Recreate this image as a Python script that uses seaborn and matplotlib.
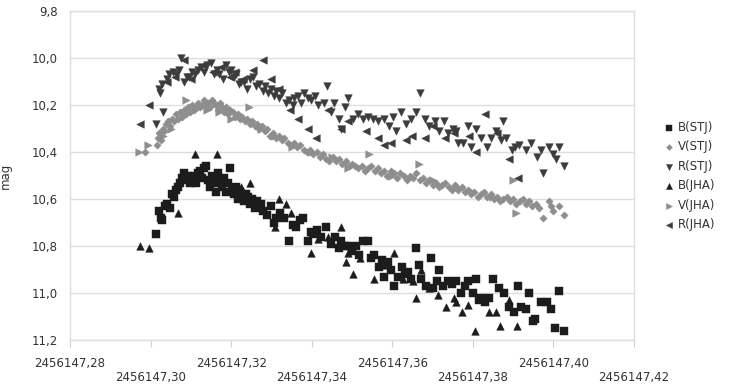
import matplotlib
matplotlib.use("Agg")
import matplotlib.pyplot as plt
import seaborn as sns
import pandas as pd

# ---------------- data ----------------
JD_BASE = 2456147.0

b_stj_t = [0.3014, 0.3021, 0.3026, 0.3029, 0.3035, 0.3041, 0.3048, 0.3052, 0.3058, 0.3062,
           0.3068, 0.3072, 0.3078, 0.3083, 0.3088, 0.3093, 0.3098, 0.3103, 0.3108, 0.3113,
           0.3118, 0.3123, 0.3128, 0.3133, 0.3138, 0.3143, 0.3148, 0.3153, 0.3158, 0.3163,
           0.3168, 0.3173, 0.3178, 0.3183, 0.3188, 0.3193, 0.3198, 0.3203, 0.3208, 0.3213,
           0.3218, 0.3223, 0.3228, 0.3233, 0.3238, 0.3242, 0.3247, 0.3252, 0.3258, 0.3263,
           0.3270, 0.3275, 0.3280, 0.3288, 0.3299, 0.3307, 0.3312, 0.3322, 0.3332, 0.3344,
           0.3354, 0.3361, 0.3370, 0.3379, 0.3390, 0.3397, 0.3404, 0.3412, 0.3424, 0.3436,
           0.3448, 0.3458, 0.3468, 0.3473, 0.3482, 0.3490, 0.3500, 0.3510, 0.3518, 0.3528,
           0.3540, 0.3548, 0.3555, 0.3568, 0.3575, 0.3580, 0.3590, 0.3597, 0.3605, 0.3615,
           0.3625, 0.3632, 0.3640, 0.3647, 0.3660, 0.3666, 0.3672, 0.3684, 0.3697, 0.3702,
           0.3710, 0.3717, 0.3727, 0.3739, 0.3748, 0.3759, 0.3771, 0.3781, 0.3789, 0.3801,
           0.3809, 0.3815, 0.3821, 0.3830, 0.3841, 0.3851, 0.3866, 0.3878, 0.3890, 0.3903,
           0.3913, 0.3920, 0.3933, 0.3940, 0.3950, 0.3955, 0.3970, 0.3983, 0.3995, 0.4005,
           0.4015, 0.4025]
b_stj_mag = [10.75, 10.65, 10.68, 10.69, 10.63, 10.62, 10.64, 10.58, 10.59, 10.56,
             10.55, 10.53, 10.51, 10.49, 10.52, 10.50, 10.53, 10.51, 10.50, 10.53,
             10.49, 10.48, 10.51, 10.47, 10.46, 10.52, 10.55, 10.50, 10.53, 10.57,
             10.49, 10.52, 10.55, 10.51, 10.57, 10.53, 10.47, 10.56, 10.58, 10.55,
             10.60, 10.57, 10.59, 10.61, 10.58, 10.59, 10.62, 10.60, 10.64, 10.61,
             10.63, 10.62, 10.65, 10.67, 10.63, 10.70, 10.68, 10.66, 10.68, 10.78,
             10.71, 10.72, 10.69, 10.68, 10.78, 10.74, 10.75, 10.73, 10.76, 10.72,
             10.79, 10.76, 10.81, 10.78, 10.80, 10.80, 10.82, 10.80, 10.84, 10.78,
             10.78, 10.85, 10.84, 10.89, 10.86, 10.93, 10.87, 10.90, 10.97, 10.93,
             10.89, 10.92, 10.91, 10.94, 10.81, 10.88, 10.94, 10.97, 10.85, 10.98,
             10.95, 10.90, 10.97, 10.95, 10.96, 10.95, 11.00, 10.97, 10.95, 11.00,
             10.94, 11.03, 11.02, 11.04, 11.02, 10.94, 10.98, 11.00, 11.06, 11.08,
             10.97, 11.06, 11.07, 11.00, 11.12, 11.11, 11.04, 11.04, 11.07, 11.15,
             10.99, 11.16]

v_stj_t = [0.2985, 0.3015, 0.3019, 0.3022, 0.3026, 0.3030, 0.3034, 0.3038, 0.3043, 0.3048,
           0.3052, 0.3057, 0.3063, 0.3068, 0.3073, 0.3078, 0.3083, 0.3088, 0.3093, 0.3098,
           0.3103, 0.3108, 0.3113, 0.3118, 0.3123, 0.3128, 0.3133, 0.3138, 0.3143, 0.3148,
           0.3153, 0.3158, 0.3163, 0.3168, 0.3173, 0.3178, 0.3183, 0.3188, 0.3193, 0.3198,
           0.3205, 0.3210, 0.3216, 0.3222, 0.3228, 0.3234, 0.3240, 0.3246, 0.3252, 0.3258,
           0.3264, 0.3270, 0.3276, 0.3283, 0.3290, 0.3297, 0.3304, 0.3311, 0.3318, 0.3325,
           0.3332, 0.3340, 0.3348, 0.3356, 0.3364, 0.3372, 0.3380, 0.3388, 0.3396, 0.3404,
           0.3412, 0.3420, 0.3428, 0.3436, 0.3444, 0.3452, 0.3460, 0.3468, 0.3476, 0.3484,
           0.3492, 0.3500, 0.3508, 0.3516, 0.3524, 0.3532, 0.3540, 0.3548, 0.3556, 0.3564,
           0.3572, 0.3580, 0.3588, 0.3596, 0.3604, 0.3612, 0.3620, 0.3628, 0.3636, 0.3644,
           0.3652, 0.3660, 0.3668, 0.3676, 0.3684, 0.3692, 0.3700, 0.3708, 0.3716, 0.3724,
           0.3732, 0.3740, 0.3748, 0.3756, 0.3764, 0.3772, 0.3780, 0.3788, 0.3796, 0.3804,
           0.3812, 0.3820, 0.3828, 0.3836, 0.3844, 0.3852, 0.3860, 0.3868, 0.3876, 0.3884,
           0.3892, 0.3900, 0.3908, 0.3916, 0.3924, 0.3932, 0.3940, 0.3948, 0.3956, 0.3965,
           0.3975, 0.3988, 0.3995, 0.4000, 0.4015, 0.4025]
v_stj_mag = [10.40, 10.37, 10.34, 10.32, 10.35, 10.30, 10.31, 10.28, 10.27, 10.29,
             10.26, 10.27, 10.24, 10.26, 10.23, 10.25, 10.22, 10.24, 10.21, 10.23,
             10.20, 10.22, 10.21, 10.19, 10.21, 10.20, 10.18, 10.20, 10.19, 10.21,
             10.18, 10.19, 10.20, 10.22, 10.19, 10.21, 10.23, 10.21, 10.24, 10.22,
             10.23, 10.25, 10.24, 10.26, 10.25, 10.27, 10.26, 10.28, 10.27, 10.29,
             10.28, 10.30, 10.29, 10.31, 10.30, 10.33, 10.32, 10.34, 10.33, 10.35,
             10.34, 10.36, 10.37, 10.36, 10.38, 10.37, 10.39, 10.40, 10.39, 10.41,
             10.40, 10.42, 10.41, 10.43, 10.44, 10.42, 10.44, 10.43, 10.45, 10.44,
             10.46, 10.45, 10.46, 10.47, 10.46, 10.48, 10.47, 10.46, 10.48, 10.47,
             10.49, 10.48, 10.50, 10.48, 10.49, 10.51, 10.49, 10.50, 10.52, 10.50,
             10.51, 10.49, 10.52, 10.51, 10.53, 10.52, 10.54, 10.53, 10.55, 10.54,
             10.53, 10.55, 10.56, 10.54, 10.56, 10.55, 10.57, 10.56, 10.58, 10.57,
             10.59, 10.58, 10.57, 10.59, 10.58, 10.60, 10.59, 10.61, 10.60, 10.59,
             10.61, 10.60, 10.62, 10.61, 10.60, 10.62, 10.61, 10.63, 10.62, 10.64,
             10.68, 10.61, 10.63, 10.65, 10.63, 10.67]

r_stj_t = [0.3014, 0.3021, 0.3024, 0.3029, 0.3031, 0.3040, 0.3046, 0.3055, 0.3063, 0.3070,
           0.3076, 0.3083, 0.3090, 0.3096, 0.3103, 0.3110, 0.3118, 0.3125, 0.3132, 0.3140,
           0.3150, 0.3158, 0.3165, 0.3170, 0.3180, 0.3188, 0.3194, 0.3200, 0.3207, 0.3213,
           0.3220, 0.3225, 0.3232, 0.3240, 0.3248, 0.3255, 0.3262, 0.3270, 0.3278, 0.3285,
           0.3292, 0.3300, 0.3307, 0.3312, 0.3319, 0.3326, 0.3335, 0.3344, 0.3354, 0.3357,
           0.3365, 0.3374, 0.3381, 0.3390, 0.3399, 0.3408, 0.3416, 0.3431, 0.3438, 0.3448,
           0.3456, 0.3468, 0.3473, 0.3482, 0.3490, 0.3503, 0.3515, 0.3528, 0.3540, 0.3552,
           0.3565, 0.3580, 0.3593, 0.3603, 0.3610, 0.3622, 0.3635, 0.3647, 0.3660, 0.3670,
           0.3680, 0.3692, 0.3705, 0.3717, 0.3729, 0.3739, 0.3750, 0.3759, 0.3764, 0.3776,
           0.3789, 0.3796, 0.3809, 0.3821, 0.3834, 0.3846, 0.3858, 0.3870, 0.3876, 0.3883,
           0.3896, 0.3905, 0.3915, 0.3933, 0.3945, 0.3958, 0.3970, 0.3975, 0.3988, 0.4000,
           0.4007, 0.4015, 0.4025]
r_stj_mag = [10.28, 10.13, 10.15, 10.11, 10.23, 10.09, 10.07, 10.06, 10.07, 10.05,
             10.00, 10.10, 10.08, 10.08, 10.06, 10.07, 10.05, 10.04, 10.06, 10.03,
             10.02, 10.07, 10.05, 10.07, 10.09, 10.03, 10.06, 10.05, 10.08, 10.07,
             10.11, 10.10, 10.10, 10.13, 10.09, 10.08, 10.12, 10.11, 10.14, 10.12,
             10.15, 10.13, 10.16, 10.14, 10.17, 10.15, 10.19, 10.18, 10.20, 10.17,
             10.16, 10.19, 10.15, 10.17, 10.18, 10.16, 10.20, 10.19, 10.12, 10.23,
             10.19, 10.26, 10.30, 10.21, 10.17, 10.26, 10.24, 10.26, 10.25, 10.26,
             10.27, 10.26, 10.29, 10.25, 10.31, 10.23, 10.28, 10.26, 10.23, 10.15,
             10.26, 10.29, 10.27, 10.31, 10.27, 10.32, 10.30, 10.31, 10.36, 10.36,
             10.29, 10.38, 10.30, 10.34, 10.38, 10.34, 10.31, 10.35, 10.27, 10.34,
             10.39, 10.38, 10.37, 10.39, 10.36, 10.42, 10.39, 10.49, 10.38, 10.41,
             10.43, 10.38, 10.46]

b_jha_t = [0.2974, 0.2996, 0.3068, 0.3110, 0.3165, 0.3225, 0.3247, 0.3265, 0.3309, 0.3320,
           0.3335, 0.3349, 0.3399, 0.3415, 0.3440, 0.3473, 0.3486, 0.3490, 0.3503, 0.3520,
           0.3555, 0.3580, 0.3605, 0.3627, 0.3652, 0.3660, 0.3672, 0.3692, 0.3714, 0.3734,
           0.3754, 0.3759, 0.3774, 0.3789, 0.3806, 0.3839, 0.3858, 0.3868, 0.3890, 0.3910]
b_jha_mag = [10.80, 10.81, 10.66, 10.41, 10.41, 10.55, 10.53, 10.62, 10.72, 10.60,
             10.62, 10.66, 10.83, 10.77, 10.76, 10.72, 10.87, 10.83, 10.92, 10.85,
             10.94, 10.88, 10.83, 10.94, 10.95, 11.02, 10.90, 10.98, 11.01, 11.06,
             11.02, 11.04, 11.08, 11.05, 11.16, 11.08, 11.08, 11.14, 11.03, 11.14]

v_jha_t = [0.2971, 0.2994, 0.3030, 0.3050, 0.3088, 0.3110, 0.3140, 0.3170, 0.3200, 0.3245,
           0.3275, 0.3310, 0.3350, 0.3400, 0.3450, 0.3490, 0.3543, 0.3600, 0.3667, 0.3700,
           0.3760, 0.3800, 0.3850, 0.3900, 0.3908]
v_jha_mag = [10.40, 10.37, 10.33, 10.30, 10.18, 10.22, 10.22, 10.23, 10.26, 10.21,
             10.30, 10.33, 10.38, 10.40, 10.42, 10.47, 10.41, 10.50, 10.45, 10.52,
             10.55, 10.57, 10.59, 10.52, 10.66]

r_jha_t = [0.2974, 0.2996, 0.3040, 0.3060, 0.3083, 0.3100, 0.3130, 0.3155, 0.3175, 0.3198,
           0.3210, 0.3230, 0.3255, 0.3280, 0.3300, 0.3320, 0.3345, 0.3366, 0.3390, 0.3410,
           0.3440, 0.3473, 0.3490, 0.3535, 0.3565, 0.3580, 0.3598, 0.3635, 0.3650, 0.3680,
           0.3700, 0.3730, 0.3752, 0.3790, 0.3809, 0.3829, 0.3860, 0.3890, 0.3913]
r_jha_mag = [10.28, 10.20, 10.10, 10.08, 10.01, 10.09, 10.03, 10.06, 10.04, 10.08,
             10.06, 10.09, 10.05, 10.01, 10.09, 10.13, 10.22, 10.26, 10.30, 10.34,
             10.22, 10.30, 10.27, 10.31, 10.34, 10.37, 10.36, 10.35, 10.33, 10.34,
             10.29, 10.34, 10.32, 10.33, 10.40, 10.24, 10.32, 10.43, 10.51]

series_names = ["B(STJ)", "V(STJ)", "R(STJ)", "B(JHA)", "V(JHA)", "R(JHA)"]

x_ticks = [0.28, 0.30, 0.32, 0.34, 0.36, 0.38, 0.40, 0.42]
x_tick_labels = ["2456147,28", "2456147,30", "2456147,32", "2456147,34",
                 "2456147,36", "2456147,38", "2456147,40", "2456147,42"]
y_ticks = [9.8, 10.0, 10.2, 10.4, 10.6, 10.8, 11.0, 11.2]
y_tick_labels = ["9,8", "10,0", "10,2", "10,4", "10,6", "10,8", "11,0", "11,2"]

# ---------------- style ----------------
sns.set_style("white")
plt.rcParams["font.family"] = ["DejaVu Sans"]
FS = 8.5

fig = plt.figure(figsize=(7.3, 3.85), dpi=100)
ax = fig.add_axes([70 / 730, 1 - 340 / 385, (634 - 70) / 730, (340 - 11) / 385])

series = [
    (b_stj_t, b_stj_mag, "s", "#1c1c1c", 26),
    (v_stj_t, v_stj_mag, "D", "#8e8e8e", 14),
    (r_stj_t, r_stj_mag, "v", "#3c3c3c", 30),
    (b_jha_t, b_jha_mag, "^", "#1c1c1c", 30),
    (v_jha_t, v_jha_mag, ">", "#8e8e8e", 30),
    (r_jha_t, r_jha_mag, "<", "#3c3c3c", 30),
]

for (t, m, mk, col, sz), name in zip(series, series_names):
    df = pd.DataFrame({"jd": [JD_BASE + v for v in t], "mag": m})
    sns.scatterplot(data=df, x="jd", y="mag", marker=mk, color=col, s=sz,
                    edgecolor=col, linewidth=0.3, ax=ax, label=name, zorder=3)

ax.set_xlim(JD_BASE + 0.28, JD_BASE + 0.42)
ax.set_ylim(11.2, 9.8)

ax.set_xticks([JD_BASE + v for v in x_ticks])
ax.set_xticklabels([lab if i % 2 == 0 else "\n" + lab for i, lab in enumerate(x_tick_labels)],
                   fontsize=FS, color="#333333", linespacing=1.1)
ax.set_yticks(y_ticks)
ax.set_yticklabels(y_tick_labels, fontsize=FS, color="#333333")

ax.tick_params(axis="x", length=5, width=0.8, color="#cfcfcf", pad=7, direction="out", bottom=True)
ax.tick_params(axis="y", length=0, pad=9)

ax.yaxis.grid(True, color="#dedede", linewidth=1)
ax.xaxis.grid(False)
for sp in ax.spines.values():
    sp.set_color("#dedede")
    sp.set_linewidth(1)
    sp.set_visible(True)

ax.set_xlabel("")
ax.set_ylabel("mag", fontsize=FS, color="#333333", labelpad=14)

ax.legend_.remove()
handles, labels = ax.get_legend_handles_labels()
fig.legend(handles, labels, loc="center left", bbox_to_anchor=(0.895, 0.543),
           frameon=False, fontsize=FS, handlelength=0.8, handletextpad=0.4,
           labelspacing=0.55, markerscale=0.8, labelcolor="#333333")

fig.savefig("out.png", dpi=100)
